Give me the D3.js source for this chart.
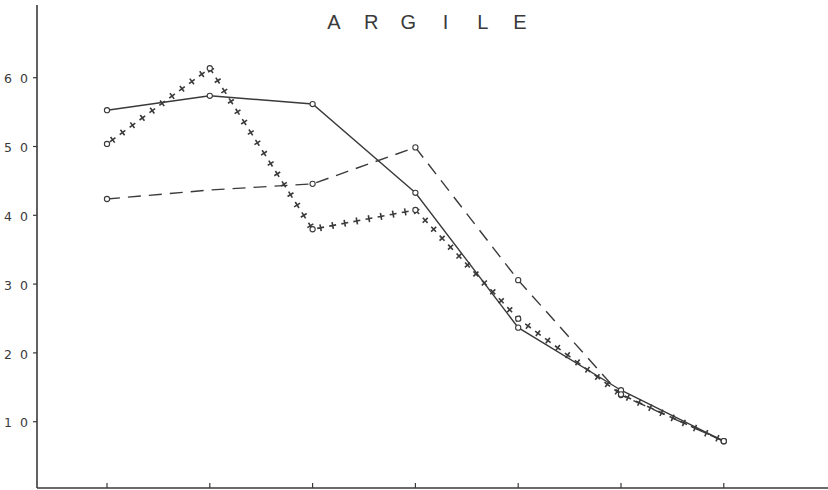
<!DOCTYPE html>
<html>
<head>
<meta charset="utf-8">
<script src="https://cdn.jsdelivr.net/npm/d3@7"></script>
<style>
  body { margin: 0; background: #fff; }
  svg { display: block; }
</style>
</head>
<body>
<svg id="chart" width="828" height="490"></svg>
<script>
const titleLetters = ["A", "R", "G", "I", "L", "E"];
const positions = [1, 2, 3, 4, 5, 6, 7];        // unlabelled x stations
const yTicks = [10, 20, 30, 40, 50, 60];
const solidSeries  = [55.2, 57.3, 56.1, 43.2, 23.6, 14.5, 7.1];
const dashedSeries = [42.3, 43.6, 44.5, 49.8, 30.5, 13.8, 7.1];
const crossSeries  = [50.3, 61.3, 37.9, 40.7, 24.9, 13.9, 7.1];
const dashedMarked = [true, false, true, true, true, true, true];

const ink = "#3a3a3a";
const svg = d3.select("#chart");

const x = d3.scaleLinear().domain([0, 8]).range([4.2, 826.6]);
const y = d3.scaleLinear().domain([0, 70]).range([490, 8.4]);

// axes
svg.append("line").attr("x1", 37).attr("x2", 37).attr("y1", 5).attr("y2", 488)
  .attr("stroke", ink).attr("stroke-width", 1.6);
svg.append("line").attr("x1", 37).attr("x2", 828).attr("y1", 488).attr("y2", 488)
  .attr("stroke", ink).attr("stroke-width", 1.6);

svg.append("g").selectAll("line").data(positions).join("line")
  .attr("x1", d => x(d)).attr("x2", d => x(d))
  .attr("y1", 488).attr("y2", 483)
  .attr("stroke", ink).attr("stroke-width", 1.2);

const yAxis = svg.append("g").attr("transform", "translate(37,0)")
  .call(d3.axisLeft(y).tickValues(yTicks).tickSize(4).tickPadding(3)
    .tickFormat(d => String(d).split("").join(" ")));
yAxis.select(".domain").remove();
yAxis.selectAll(".tick line").attr("stroke", ink).attr("stroke-width", 1.2);
yAxis.selectAll(".tick text")
  .attr("fill", ink)
  .attr("dy", "0.45em")
  .attr("letter-spacing", 2)
  .attr("font-family", "DejaVu Sans, sans-serif")
  .attr("font-size", 12.5);

// title
svg.append("text")
  .attr("y", 29)
  .attr("fill", ink)
  .attr("font-family", "Liberation Sans, Arial, sans-serif")
  .attr("font-size", 20)
  .attr("text-anchor", "middle")
  .selectAll("tspan").data(titleLetters).join("tspan")
    .attr("x", (d, i) => 334 + i * 37.2)
    .text(d => d);

const line = d3.line().x((d, i) => x(positions[i])).y(d => y(d));

// solid series
svg.append("path").attr("d", line(solidSeries))
  .attr("fill", "none").attr("stroke", ink).attr("stroke-width", 1.4);

// dashed series
svg.append("path").attr("d", line(dashedSeries))
  .attr("fill", "none").attr("stroke", ink).attr("stroke-width", 1.4)
  .attr("stroke-dasharray", "13,8");

// cross series: invisible guide path, crosses placed along it
const crossPath = svg.append("path").attr("d", line(crossSeries))
  .attr("fill", "none").attr("stroke", "none");
const node = crossPath.node();
const total = node.getTotalLength();
const step = 12.3;
const crosses = [];
for (let l = 7; l < total - 4; l += step) {
  const p = node.getPointAtLength(l);
  const q = node.getPointAtLength(Math.min(total, l + 1));
  crosses.push({ x: p.x, y: p.y, a: Math.atan2(q.y - p.y, q.x - p.x) * 180 / Math.PI });
}
svg.append("g").selectAll("path").data(crosses).join("path")
  .attr("transform", d => `translate(${d.x},${d.y}) rotate(${d.a})`)
  .attr("d", "M-3.5,0H3.5M0,-3.5V3.5")
  .attr("stroke", ink).attr("stroke-width", 1.6);

// circle markers
function circles(values, marked) {
  svg.append("g").selectAll("circle")
    .data(values.map((v, i) => ({ v, i })).filter(d => !marked || marked[d.i]))
    .join("circle")
    .attr("cx", d => x(positions[d.i])).attr("cy", d => y(d.v))
    .attr("r", 2.6).attr("fill", "#fff").attr("stroke", ink).attr("stroke-width", 1.1);
}
circles(solidSeries);
circles(dashedSeries, dashedMarked);
circles(crossSeries);
</script>
</body>
</html>
